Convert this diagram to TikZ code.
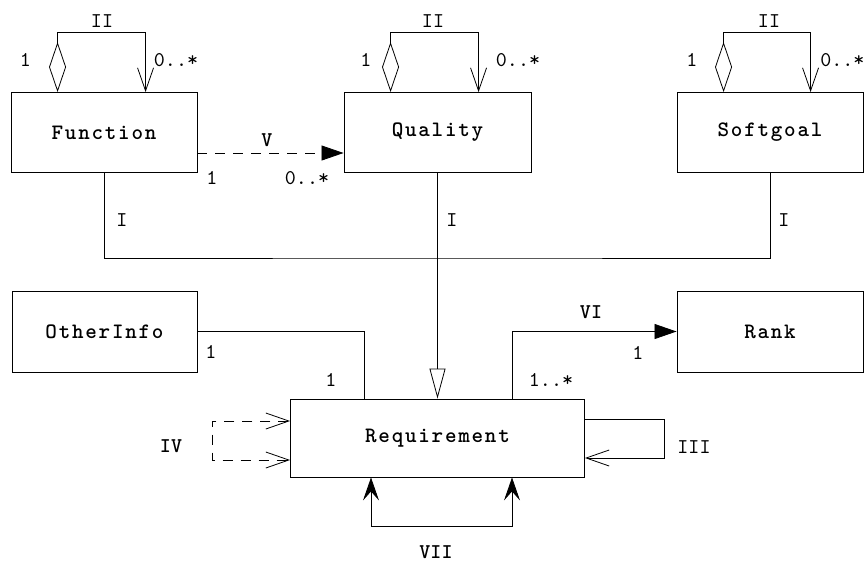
\documentclass[tikz,border=0pt]{standalone}
\usepackage{fontspec}
\usetikzlibrary{arrows.meta}
\newfontfamily\bxfont[LetterSpace=8]{lmmonolt10-bold.otf}
\newfontfamily\lbfont{lmmono10-regular.otf}
\newfontfamily\rnbfont{lmmonolt10-bold.otf}
\begin{document}
\begin{tikzpicture}[x=1pt,y=-1pt,line width=0.8pt,
  box/.style={draw,line width=0.9pt,minimum height=80pt,inner sep=0pt,font={\bxfont\fontsize{22}{26}\selectfont}},
  lbl/.style={inner sep=0pt,font={\lbfont\fontsize{21}{24}\selectfont}},
  rnb/.style={inner sep=0pt,font={\rnbfont\fontsize{21}{24}\selectfont}},
  barb/.tip={Straight Barb[length=23pt,width=16pt]},
  filltri/.tip={Triangle[length=22pt,width=15pt]},
  gentri/.tip={Triangle[open,length=30pt,width=16pt]},
  agg/.tip={Diamond[open,length=50pt,width=17pt]},
  stl/.tip={Stealth[length=23pt,width=16pt,inset=9pt]},
  dsh/.style={dash pattern=on 10pt off 8pt}]
\useasboundingbox (0,0) rectangle (864,563);
% classes
\node[box,minimum width=186pt] (fun) at (104,132.5) {Function};
\node[box,minimum width=187pt] (qual) at (437.5,132.5) {Quality};
\node[box,minimum width=186pt] (soft) at (770,132.5) {Softgoal};
\node[box,minimum width=185pt,minimum height=81pt] (oi) at (104.5,331.5) {OtherInfo};
\node[box,minimum width=186pt,minimum height=81pt] (rank) at (770,331.5) {Rank};
\node[box,minimum width=294pt,minimum height=78pt] (req) at (437.5,438) {Requirement};
% aggregation self loops (II)
\draw[agg-barb] ([xshift=47pt]fun.north west) -- ++(0,-60) -| ([xshift=135pt]fun.north west);
\draw[agg-barb] ([xshift=47pt]qual.north west) -- ++(0,-60) -| ([xshift=135pt]qual.north west);
\draw[agg-barb] ([xshift=47pt]soft.north west) -- ++(0,-60) -| ([xshift=134pt]soft.north west);
\node[lbl] (f2) at (102,21) {II};
\node[lbl] (f1) at (25.5,60) {1};
\node[lbl] (f3) at (176,60) {0..*};
\node[lbl] (q2) at (433,21) {II};
\node[lbl] (q1) at (366,60) {1};
\node[lbl] (q3) at (518,60) {0..*};
\node[lbl] (s2) at (769,21) {II};
\node[lbl] (s1) at (692,60) {1};
\node[lbl,anchor=west] (s3) at (820,60) {0..*};
% V
\draw[dsh,-filltri] ([yshift=-20.5pt]fun.east) -- ([yshift=-20.5pt]qual.west);
\node[rnb] (v) at (267,140) {V};
\node[lbl] (v1) at (212,178) {1};
\node[lbl] (v2) at (307,178) {0..*};
% I generalization
\coordinate (gj) at (437.5,258);
\draw (fun.south) |- (gj) -| (soft.south);
\draw[-gentri] (qual.south) -- (req.north);
\node[lbl] (i1) at (122,220) {I};
\node[lbl] (i2) at (452,220) {I};
\node[lbl] (i3) at (784,220) {I};
% OtherInfo
\draw (oi.east) -| ([xshift=-73.5pt]req.north);
\node[lbl] (o1) at (211,352) {1};
\node[lbl] (o2) at (331,380) {1};
% VI Rank
\draw[-filltri] ([xshift=74.5pt]req.north) |- (rank.west);
\node[rnb] (vi) at (591,312) {VI};
\node[lbl] (r1) at (638,353) {1};
\node[lbl] (r2) at (551,380) {1..*};
% III
\draw[-barb] ([yshift=19pt]req.east) -- ++(79,0) |- ([yshift=-20pt]req.east);
\node[lbl] (iii) at (694,447) {III};
% IV
\draw[dsh,barb-barb] ([yshift=17pt]req.west) -- ++(-78,0) |- ([yshift=-22pt]req.west);
\node[rnb] (iv) at (171,446) {IV};
% VII
\draw[stl-stl] ([xshift=-66.5pt]req.south) -- ++(0,49) -| ([xshift=74.5pt]req.south);
\node[rnb] (vii) at (436,552) {VII};
\end{tikzpicture}
\end{document}
